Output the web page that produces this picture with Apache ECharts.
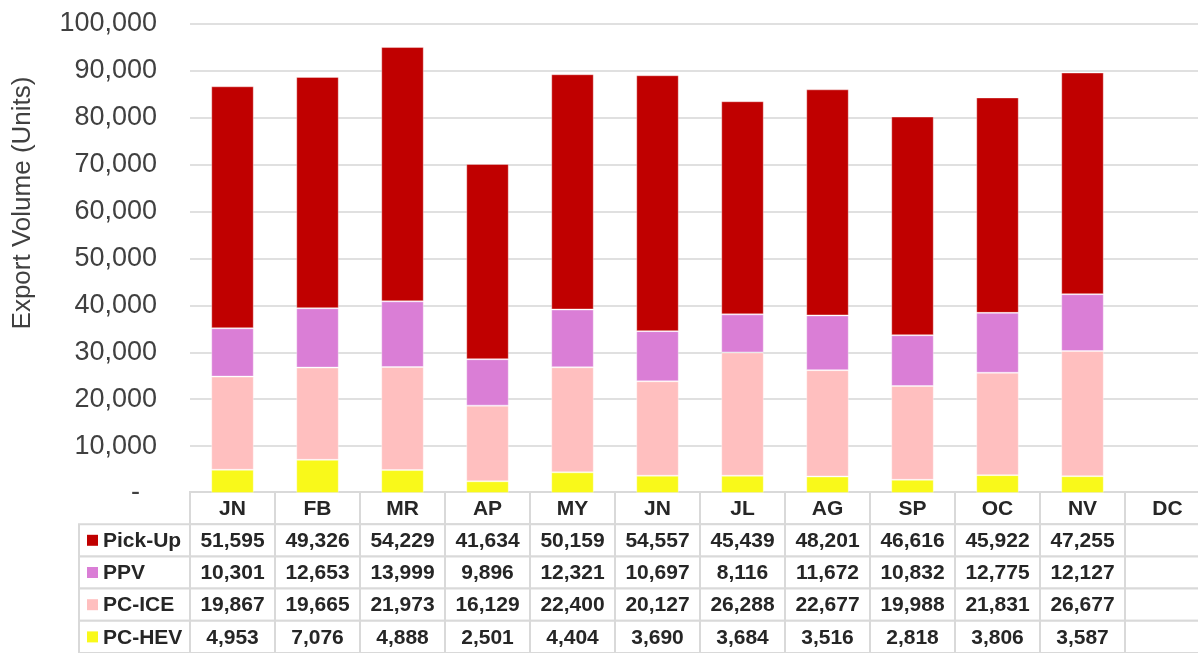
<!DOCTYPE html>
<html>
<head>
<meta charset="utf-8">
<script src="https://cdn.jsdelivr.net/npm/echarts@6/dist/echarts.min.js"></script>
<style>
  html, body { margin: 0; padding: 0; background: #fff; overflow: hidden; }
  /* the chart runs a little past the right edge, as in the source image */
  #chart { width: 1210px; height: 653px; }
</style>
</head>
<body>
<div id="chart"></div>
<script>
// monthly export volume, units
const months = ['JN', 'FB', 'MR', 'AP', 'MY', 'JN', 'JL', 'AG', 'SP', 'OC', 'NV', 'DC']
const pickUp = [51595, 49326, 54229, 41634, 50159, 54557, 45439, 48201, 46616, 45922, 47255, null]
const ppv = [10301, 12653, 13999, 9896, 12321, 10697, 8116, 11672, 10832, 12775, 12127, null]
const pcIce = [19867, 19665, 21973, 16129, 22400, 20127, 26288, 22677, 19988, 21831, 26677, null]
const pcHev = [4953, 7076, 4888, 2501, 4404, 3690, 3684, 3516, 2818, 3806, 3587, null]
const yMin = 0
const yMax = 100000
const yStep = 10000

const colors = {
  'Pick-Up': '#C00000',
  PPV: '#DA7ED6',
  'PC-ICE': '#FFBFBF',
  'PC-HEV': '#F9F91A',
}

// table rows top to bottom, bars stack bottom to top
const tableRows = [
  ['Pick-Up', pickUp],
  ['PPV', ppv],
  ['PC-ICE', pcIce],
  ['PC-HEV', pcHev],
]
const stackOrder = [...tableRows].reverse()

const fmt = (v) => (v == null ? '' : v.toLocaleString('en-US'))
const FONT = '"Liberation Sans", Arial, sans-serif'
const NAME_COL = 111 / 85 // name column width in month-column units

// cells for the data table: [col, row], col -1 is the legend column, row 0 the header
const cells = []
months.forEach((m, c) => cells.push({ value: [c, 0], text: m }))
tableRows.forEach(([name, vals], i) => {
  cells.push({ value: [-1, i + 1], text: name, key: name })
  vals.forEach((v, c) => cells.push({ value: [c, i + 1], text: fmt(v) }))
})

function renderCell(params, api) {
  const cell = cells[params.dataIndex]
  const c = api.value(0)
  const r = api.value(1)
  if (c < 0 && r === 0) return null
  const p0 = api.coord([c < 0 ? -NAME_COL : c, r])
  const p1 = api.coord([c < 0 ? 0 : c + 1, r + 1])
  const w = p1[0] - p0[0]
  const h = p1[1] - p0[1]
  const midY = p0[1] + h / 2
  const children = [{
    type: 'rect',
    shape: { x: p0[0], y: p0[1], width: w, height: h },
    style: { fill: '#fff', stroke: '#d9d9d9', lineWidth: 2 },
  }]
  if (cell.key) {
    children.push({
      type: 'rect',
      shape: { x: p0[0] + 8, y: midY - 5.5, width: 11, height: 11 },
      style: { fill: colors[cell.key] },
    })
  }
  children.push({
    type: 'text',
    style: {
      text: cell.text,
      x: cell.key ? p0[0] + 24 : p0[0] + w / 2,
      y: midY + 1,
      align: cell.key ? 'left' : 'center',
      verticalAlign: 'middle',
      font: 'bold 21px ' + FONT,
      fill: '#262626',
    },
  })
  return { type: 'group', children }
}

const chart = echarts.init(document.getElementById('chart'))
chart.setOption({
  animation: false,
  backgroundColor: '#fff',
  grid: [
    { left: 190, right: 0, top: 24, height: 469 },
    { left: 190, right: 0, top: 492, height: 165 },
  ],
  xAxis: [
    {
      type: 'category',
      gridIndex: 0,
      data: months,
      axisLine: { show: false },
      axisTick: { show: false },
      axisLabel: { show: false },
    },
    { type: 'value', gridIndex: 1, min: 0, max: 12, show: false },
  ],
  yAxis: [
    {
      type: 'value',
      gridIndex: 0,
      min: yMin,
      max: yMax,
      interval: yStep,
      axisLine: { show: false },
      axisTick: { show: false },
      splitLine: { lineStyle: { color: '#e0e0e0', width: 2 } },
      axisLabel: {
        margin: 33,
        color: '#404040',
        fontFamily: FONT,
        fontSize: 27,
        formatter: (v) => (v === 0 ? '{z|-}' : fmt(v)),
        rich: { z: { padding: [0, 17, 0, 0], fontSize: 27, fontFamily: FONT, color: '#404040' } },
      },
    },
    { type: 'value', gridIndex: 1, min: 0, max: 5, inverse: true, show: false },
  ],
  graphic: [{
    type: 'text',
    x: 23,
    y: 203,
    rotation: Math.PI / 2,
    style: {
      text: 'Export Volume (Units)',
      align: 'center',
      verticalAlign: 'middle',
      font: '26px ' + FONT,
      fill: '#404040',
    },
  }],
  series: [
    ...stackOrder.map(([name, vals]) => ({
      name,
      type: 'bar',
      stack: 'total',
      barWidth: '50%',
      xAxisIndex: 0,
      yAxisIndex: 0,
      data: vals,
      itemStyle: { color: colors[name], borderColor: 'rgba(255,255,255,0.35)', borderWidth: 1 },
    })),
    {
      type: 'custom',
      xAxisIndex: 1,
      yAxisIndex: 1,
      clip: false,
      data: cells.map((d) => d.value),
      renderItem: renderCell,
    },
  ],
})
</script>
</body>
</html>
